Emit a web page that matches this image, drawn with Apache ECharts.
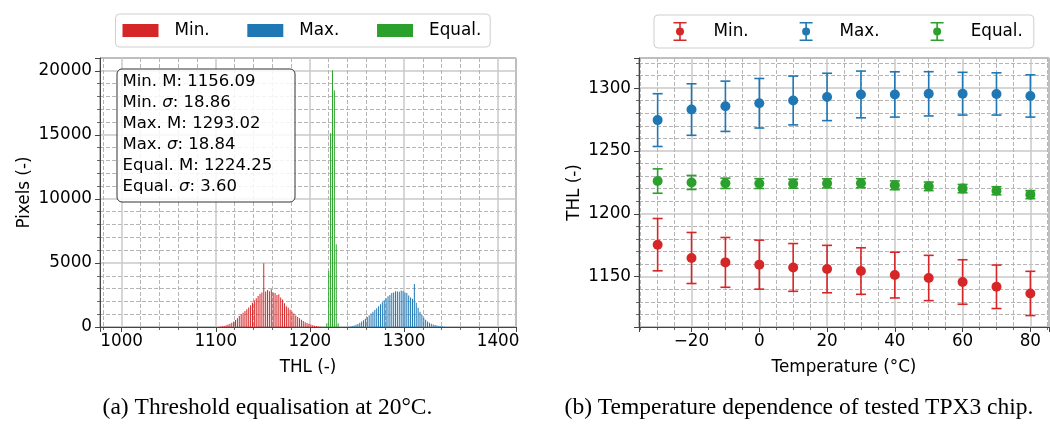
<!DOCTYPE html>
<html>
<head>
<meta charset="utf-8">
<script src="https://cdn.jsdelivr.net/npm/echarts@6/dist/echarts.min.js"></script>
<style>
  html, body { margin: 0; padding: 0; background: #fff; }
  #chart { width: 1050px; height: 426px; }
</style>
</head>
<body>
<div id="chart"></div>
<script>
// ---- (a) THL histograms at 20 °C: bin centres (2-THL bins) and pixel counts ----
const minTHL = [1105,1107,1109,1111,1113,1115,1117,1119,1121,1123,1125,1127,1129,1131,1133,1135,1137,1139,1141,1143,1145,1147,1149,1151,
                1153,1155,1157,1159,1161,1163,1165,1167,1169,1171,1173,1175,1177,1179,1181,1183,1185,1187,1189,1191,1193,1195,1197,1199,1201,1203,1205,1207,1209,1211];
const minCounts = [30,50,80,130,190,260,340,430,540,680,850,1000,1120,1250,1380,1520,1700,1900,2080,2250,2420,2600,2700,4970,
                   2780,2890,2800,2950,2700,2650,2500,2550,2300,2150,1850,1620,1500,1350,1200,1050,900,780,680,560,460,380,310,250,190,140,100,70,45,25];

const maxTHL = [1241,1243,1245,1247,1249,1251,1253,1255,1257,1259,1261,1263,1265,1267,1269,1271,1273,1275,1277,1279,1281,1283,1285,1287,1289,1291,
                1293,1295,1297,1299,1301,1303,1305,1307,1309,1311,1313,1315,1317,1319,1321,1323,1325,1327,1329,1331,1333,1335,1337,1339,1341,1343];
const maxCounts = [20,40,70,110,170,240,330,420,520,640,780,920,1060,1200,1330,1470,1620,1780,1930,2080,2250,2400,2500,2650,2700,2800,
                   2780,2750,2850,2820,2700,2650,2450,2300,2200,3350,1900,1500,1200,950,720,560,430,330,260,200,150,110,80,55,35,20];

const equalTHL = [1218,1220,1222,1224,1226,1228,1230];
const equalCounts = [290,4400,15130,20050,18460,6460,300];

// Summary statistics printed in the annotation box
const statNames = ['Min.', 'Max.', 'Equal.'];
const statMeans = [1156.09, 1293.02, 1224.25];
const statSigmas = [18.86, 18.84, 3.60];

// ---- (b) THL versus chip temperature: mean and standard deviation ----
const temperatures = [-30,-20,-10,0,10,20,30,40,50,60,70,80];
const minMean  = [1175.5,1164.9,1161.4,1159.6,1157.4,1156.09,1154.5,1151.3,1149.0,1145.8,1142.0,1136.7];
const minStd   = [20.8,20.3,19.8,19.5,19.0,18.86,18.5,18.2,18.0,17.7,17.3,17.6];
const maxMean  = [1274.6,1283.0,1285.6,1288.0,1290.2,1293.02,1295.0,1295.0,1295.5,1295.6,1295.4,1293.8];
const maxStd   = [21.0,20.5,20.0,19.7,19.4,18.84,18.6,18.0,17.6,17.0,16.8,16.8];
const equalMean = [1226.1,1225.0,1224.3,1224.1,1224.0,1224.25,1224.4,1222.7,1221.9,1220.1,1218.4,1215.3];
const equalStd  = [9.7,5.6,4.1,3.9,3.6,3.60,3.6,3.5,3.4,3.3,3.2,3.2];

const captionA = '(a) Threshold equalisation at 20°C.';
const captionB = '(b) Temperature dependence of tested TPX3 chip.';

// ---- styling ----
const RED = '#d62728', BLUE = '#1f77b4', GREEN = '#2ca02c';
const FONT = 'DejaVu Sans';
const FS = 16.8;
const SPINE = '#444';

const pairs = (xs, ys) => xs.map((x, i) => [x, ys[i]]);
const errRows = (m, s) => temperatures.map((t, i) => [t, m[i] - s[i], m[i] + s[i]]);

// error-bar glyph for the legend: caps, stem and dot
const errIcon = 'path://M0 0H13V1.6H0Z M0 17.4H13V19H0Z M5.7 0H7.3V19H5.7Z M2.5 9.5A4 4 0 0 1 10.5 9.5A4 4 0 0 1 2.5 9.5Z';

function errorBarItem(params, api) {
  const x = api.value(0);
  const lo = api.coord([x, api.value(1)]);
  const hi = api.coord([x, api.value(2)]);
  const hw = 5;
  const style = { stroke: api.visual('color'), lineWidth: 1.6, fill: null };
  return {
    type: 'group',
    children: [
      { type: 'line', shape: { x1: hi[0], y1: hi[1], x2: lo[0], y2: lo[1] }, style },
      { type: 'line', shape: { x1: hi[0] - hw, y1: hi[1], x2: hi[0] + hw, y2: hi[1] }, style },
      { type: 'line', shape: { x1: lo[0] - hw, y1: lo[1], x2: lo[0] + hw, y2: lo[1] }, style }
    ]
  };
}

function axisCommon(minorSplit) {
  return {
    axisLine: { show: true, onZero: false, lineStyle: { color: SPINE, width: 1 } },
    axisTick: { show: true, inside: false, length: 5, lineStyle: { color: SPINE, width: 1 } },
    minorTick: { show: true, splitNumber: minorSplit, length: 3, lineStyle: { color: SPINE, width: 0.8 } },
    splitLine: { show: true, lineStyle: { color: '#c8c8c8', width: 1.5 } },
    minorSplitLine: { show: true, lineStyle: { color: '#b5b5b5', width: 1, type: [4, 2] } },
    nameTextStyle: { fontFamily: FONT, fontSize: FS, color: '#000' }
  };
}
const plain = v => (v < 0 ? '\u2212' + Math.abs(v) : String(v));
function labels(margin, hideMin, hideMax) {
  return { margin, fontFamily: FONT, fontSize: FS, color: '#000', formatter: plain,
           showMinLabel: !hideMin, showMaxLabel: !hideMax };
}

// annotation text with an italic sigma
const statText = statNames.map((n, i) =>
  n + ' M: ' + statMeans[i].toFixed(2) + '\n' + n + ' {s|σ}: ' + statSigmas[i].toFixed(2)
).join('\n');

const chart = echarts.init(document.getElementById('chart'), null, { renderer: 'canvas' });

const option = {
  animation: false,
  backgroundColor: '#fff',
  grid: [
    { left: 100, top: 58, width: 416, height: 269, show: true, borderColor: SPINE, borderWidth: 1 },
    { left: 639, top: 58, width: 410, height: 269, show: true, borderColor: SPINE, borderWidth: 1 }
  ],
  xAxis: [
    Object.assign(axisCommon(5), {
      type: 'value', gridIndex: 0, min: 977, max: 1419, splitNumber: 4,
      name: 'THL (-)', nameLocation: 'middle', nameGap: 32,
      axisLabel: labels(6, true, true)
    }),
    Object.assign(axisCommon(4), {
      type: 'value', gridIndex: 1, min: -35.5, max: 85.5, splitNumber: 5,
      name: 'Temperature (°C)', nameLocation: 'middle', nameGap: 32,
      axisLabel: labels(6, true, true)
    })
  ],
  yAxis: [
    Object.assign(axisCommon(5), {
      type: 'value', gridIndex: 0, min: 0, max: 21000, interval: 5000,
      name: 'Pixels (-)', nameLocation: 'middle', nameGap: 67,
      axisLabel: labels(8, false, true)
    }),
    Object.assign(axisCommon(5), {
      type: 'value', gridIndex: 1, min: 1110, max: 1324, splitNumber: 4,
      name: 'THL (-)', nameLocation: 'middle', nameGap: 56,
      axisLabel: labels(8, true, true)
    })
  ],
  legend: [
    {
      left: 115.5, top: 14, orient: 'horizontal', selectedMode: false,
      data: [{ name: 'Min.', icon: 'rect' }, { name: 'Max.', icon: 'rect' }, { name: 'Equal.', icon: 'rect' }],
      itemWidth: 36, itemHeight: 13, itemGap: 37.7,
      padding: [8, 9, 8, 7],
      borderColor: '#cfcfcf', borderWidth: 1, borderRadius: 4, backgroundColor: 'rgba(255,255,255,0.8)',
      textStyle: { fontFamily: FONT, fontSize: FS, color: '#000', padding: [2, 0, 0, 11] }
    },
    {
      left: 654, top: 15, orient: 'horizontal', selectedMode: false,
      data: [{ name: 'Min.', icon: errIcon }, { name: 'Max.', icon: errIcon }, { name: 'Equal.', icon: errIcon }],
      itemWidth: 13, itemHeight: 19, itemGap: 51,
      padding: [7, 11, 7, 19.5],
      borderColor: '#cfcfcf', borderWidth: 1, borderRadius: 4, backgroundColor: 'rgba(255,255,255,0.8)',
      textStyle: { fontFamily: FONT, fontSize: FS, color: '#000', padding: [2, 0, 0, 22] }
    }
  ],
  series: [
    // histograms
    { name: 'Min.', type: 'bar', xAxisIndex: 0, yAxisIndex: 0, data: pairs(minTHL, minCounts),
      barWidth: 1.0, barGap: '-100%', itemStyle: { color: RED } },
    { name: 'Max.', type: 'bar', xAxisIndex: 0, yAxisIndex: 0, data: pairs(maxTHL, maxCounts),
      barWidth: 1.0, barGap: '-100%', itemStyle: { color: BLUE } },
    { name: 'Equal.', type: 'bar', xAxisIndex: 0, yAxisIndex: 0, data: pairs(equalTHL, equalCounts),
      barWidth: 1.0, barGap: '-100%', itemStyle: { color: GREEN } },
    // temperature dependence: error bars
    { name: 'Min.', type: 'custom', xAxisIndex: 1, yAxisIndex: 1, renderItem: errorBarItem,
      itemStyle: { color: RED }, encode: { x: 0, y: [1, 2] }, data: errRows(minMean, minStd), z: 3 },
    { name: 'Max.', type: 'custom', xAxisIndex: 1, yAxisIndex: 1, renderItem: errorBarItem,
      itemStyle: { color: BLUE }, encode: { x: 0, y: [1, 2] }, data: errRows(maxMean, maxStd), z: 3 },
    { name: 'Equal.', type: 'custom', xAxisIndex: 1, yAxisIndex: 1, renderItem: errorBarItem,
      itemStyle: { color: GREEN }, encode: { x: 0, y: [1, 2] }, data: errRows(equalMean, equalStd), z: 3 },
    // temperature dependence: means
    { name: 'Min.', type: 'scatter', xAxisIndex: 1, yAxisIndex: 1, symbolSize: 10,
      itemStyle: { color: RED, opacity: 1 }, data: pairs(temperatures, minMean), z: 4 },
    { name: 'Max.', type: 'scatter', xAxisIndex: 1, yAxisIndex: 1, symbolSize: 10,
      itemStyle: { color: BLUE, opacity: 1 }, data: pairs(temperatures, maxMean), z: 4 },
    { name: 'Equal.', type: 'scatter', xAxisIndex: 1, yAxisIndex: 1, symbolSize: 10,
      itemStyle: { color: GREEN, opacity: 1 }, data: pairs(temperatures, equalMean), z: 4 }
  ],
  graphic: [
    { type: 'rect', z: 100, shape: { x: 117, y: 69, width: 178, height: 133, r: 5 },
      style: { fill: 'rgba(255,255,255,0.85)', stroke: '#333', lineWidth: 1 } },
    { type: 'text', z: 101, x: 122.5, y: 71,
      style: { text: statText, fontFamily: FONT, fontSize: FS - 0.3, lineHeight: 21, fill: '#000',
               rich: { s: { fontFamily: FONT, fontStyle: 'italic', fontSize: FS - 0.3, lineHeight: 21 } } } },
    { type: 'text', z: 100, x: 267.5, y: 408,
      style: { text: captionA, fontFamily: 'Liberation Serif', fontSize: 23.5, fill: '#000',
               align: 'center', verticalAlign: 'middle', textAlign: 'center', textVerticalAlign: 'middle' } },
    { type: 'text', z: 100, x: 799, y: 408,
      style: { text: captionB, fontFamily: 'Liberation Serif', fontSize: 23.5, fill: '#000',
               align: 'center', verticalAlign: 'middle', textAlign: 'center', textVerticalAlign: 'middle' } }
  ]
};

chart.setOption(option);
</script>
</body>
</html>
